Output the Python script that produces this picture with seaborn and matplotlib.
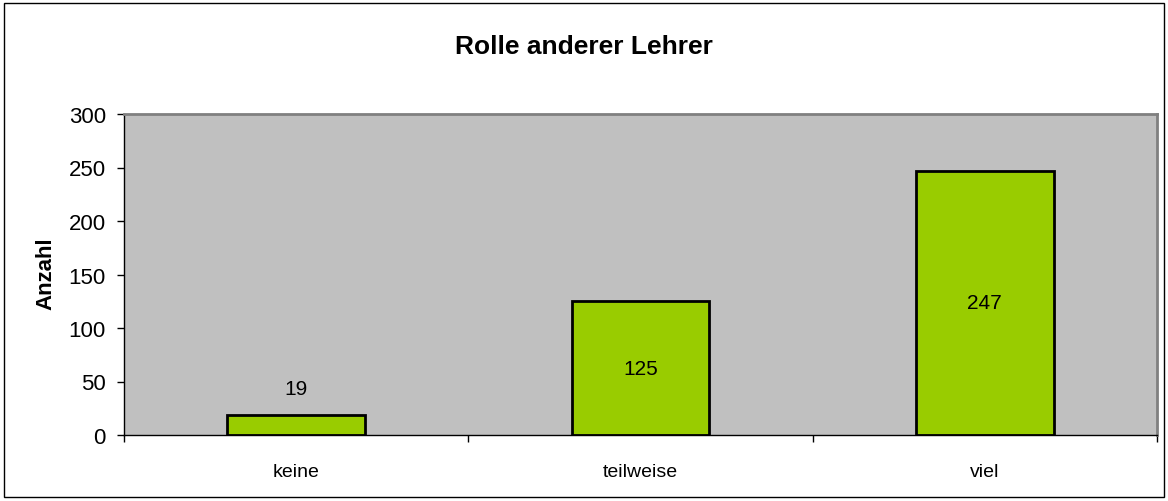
import matplotlib
matplotlib.use("Agg")
import matplotlib.pyplot as plt
import seaborn as sns
import pandas as pd
from matplotlib.patches import Rectangle

categories = ["keine", "teilweise", "viel"]
counts = [19, 125, 247]
title = "Rolle anderer Lehrer"
ylabel = "Anzahl"

sns.set_style("white")
plt.rcParams["font.family"] = ["Liberation Sans", "DejaVu Sans"]
plt.rcParams["text.color"] = "black"
plt.rcParams["axes.labelcolor"] = "black"
plt.rcParams["xtick.color"] = "black"
plt.rcParams["ytick.color"] = "black"

table = pd.DataFrame({"Kategorie": categories, "Anzahl": counts})

fig = plt.figure(figsize=(11.68, 5.02), dpi=100)
ax = fig.add_axes([124 / 1168, 1 - 436 / 502, (1157 - 124) / 1168, (436 - 115) / 502])
ax.set_facecolor("#C0C0C0")

sns.barplot(data=table, x="Kategorie", y="Anzahl", color="#99CC00",
            edgecolor="black", linewidth=2, width=0.4, saturation=1, ax=ax)

# value labels: centred in the bar, above it when the bar is too short
for i, v in enumerate(counts):
    if v < 40:
        ax.text(i, v + 24, str(v), ha="center", va="center", fontsize=15)
    else:
        ax.text(i, v / 2, str(v), ha="center", va="center", fontsize=15)

ax.set_xlim(-0.5, 2.5)
ax.set_ylim(0, 300)
ax.set_yticks(range(0, 301, 50))
ax.set_xticks([-0.5, 0.5, 1.5, 2.5], minor=True)
ax.tick_params(axis="x", which="major", length=0, pad=20, labelsize=14)
ax.tick_params(axis="x", which="minor", length=5, width=1, color="black", direction="out")
ax.tick_params(axis="y", length=5, width=1, color="black", direction="out", labelsize=16, pad=8)
ax.tick_params(axis="x", bottom=True, which="both")
ax.tick_params(axis="y", left=True)

for side in ["left", "bottom"]:
    ax.spines[side].set_color("black")
    ax.spines[side].set_linewidth(1)
for side in ["top", "right"]:
    ax.spines[side].set_color("#808080")
    ax.spines[side].set_linewidth(2)

ax.set_xlabel("")
fig.text(45.5 / 1168, 1 - 274 / 502, ylabel, rotation=90, ha="center", va="center",
         fontsize=16, fontweight="bold")
fig.text(0.5, 1 - 47 / 502, title, ha="center", va="center", fontsize=19, fontweight="bold")
ax.set_ylabel("")

fig.patches.append(Rectangle((4 / 1168, 4 / 502), 1160 / 1168, 494 / 502,
                             transform=fig.transFigure, fill=False,
                             edgecolor="black", linewidth=1))

fig.savefig("out.png", dpi=100)
